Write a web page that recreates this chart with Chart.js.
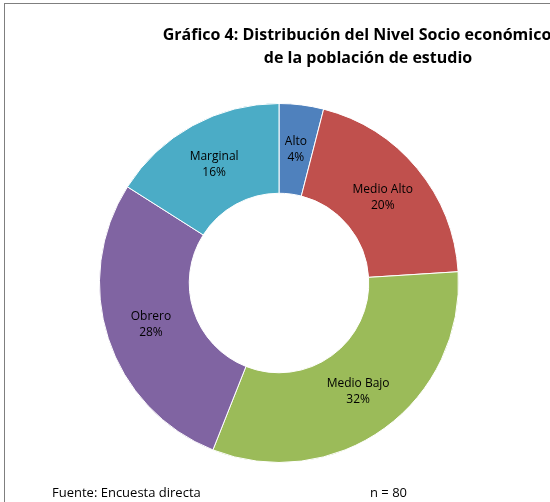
<!DOCTYPE html>
<html>
<head>
<meta charset="utf-8">
<script src="https://cdn.jsdelivr.net/npm/chart.js@4"></script>
<style>
  html, body { margin: 0; padding: 0; background: #fff; }
  #wrap { position: relative; width: 550px; height: 502px; overflow: hidden; }
  #frame { position: absolute; left: 4px; top: 3px; width: 600px; height: 600px;
           border-left: 1px solid #7f7f7f; border-top: 1px solid #7f7f7f; }
  canvas { position: absolute; left: 0; top: 0; }
</style>
</head>
<body>
<div id="wrap">
  <div id="frame"></div>
  <canvas id="nivelChart" width="550" height="502"></canvas>
</div>
<script>
// Nivel socio económico (%)
const categories = ['Alto', 'Medio Alto', 'Medio Bajo', 'Obrero', 'Marginal'];
const percentages = [4, 20, 32, 28, 16];
const sliceColors = ['#4F81BD', '#C0504D', '#9BBB59', '#8064A2', '#4BACC6'];

const titleLines = ['Gráfico 4: Distribución del Nivel Socio económico', 'de la población de estudio'];
const sourceNote = 'Fuente: Encuesta directa';
const sampleNote = 'n = 80';

// Title, footer and the in-slice labels
const textPlugin = {
  id: 'textPlugin',
  afterDraw(chart) {
    const ctx = chart.ctx;
    ctx.save();
    ctx.fillStyle = '#000';
    ctx.textAlign = 'center';
    ctx.textBaseline = 'middle';

    ctx.font = 'bold 16px "Open Sans", sans-serif';
    ctx.fillText(titleLines[0], 357, 35);
    ctx.fillText(titleLines[1], 368, 58);

    ctx.font = '13px "Open Sans", sans-serif';
    ctx.textAlign = 'left';
    ctx.fillText(sourceNote, 52, 493);
    ctx.fillText(sampleNote, 370, 493);

    ctx.textAlign = 'center';
    ctx.font = '12px "Open Sans", sans-serif';
    chart.getDatasetMeta(0).data.forEach((arc, i) => {
      const p = arc.tooltipPosition();
      ctx.fillText(categories[i], p.x, p.y - 8);
      ctx.fillText(percentages[i] + '%', p.x, p.y + 8);
    });
    ctx.restore();
  }
};

new Chart(document.getElementById('nivelChart'), {
  type: 'doughnut',
  data: {
    labels: categories,
    datasets: [{
      data: percentages,
      backgroundColor: sliceColors,
      borderColor: '#ffffff',
      borderWidth: 1
    }]
  },
  options: {
    responsive: false,
    animation: false,
    cutout: '50%',
    layout: { padding: { top: 103, bottom: 39, left: 99, right: 91 } },
    plugins: {
      legend: { display: false },
      tooltip: { enabled: false }
    }
  },
  plugins: [textPlugin]
});
</script>
</body>
</html>
